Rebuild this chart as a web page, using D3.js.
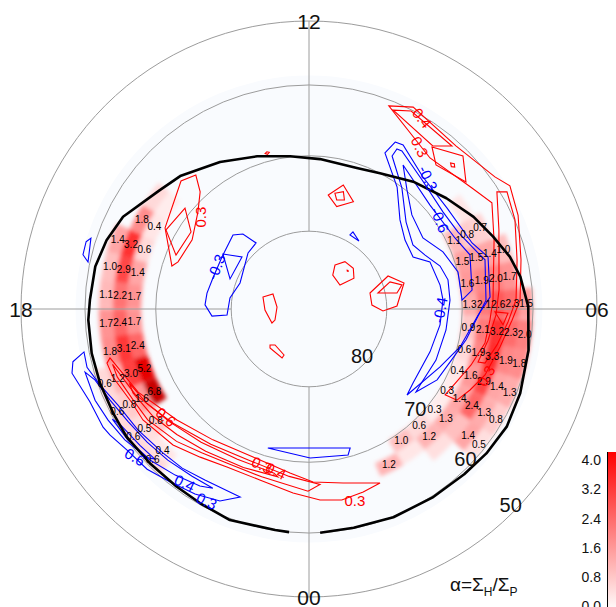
<!DOCTYPE html>
<html>
<head>
<meta charset="utf-8">
<script src="https://cdn.jsdelivr.net/npm/d3@7"></script>
<style>
  html, body { margin: 0; padding: 0; background: #ffffff; }
  svg { display: block; }
</style>
</head>
<body>
<svg id="chart" width="616" height="607"></svg>
<script>
// ---- dial furniture ----
const hourLabels = [[12, "12"], [18, "18"], [6, "06"], [0, "00"]];
const latCircles = [80, 70, 60, 50];
const spokeHours = [0, 6, 12, 18];
const colorTicks = [0, 0.8, 1.6, 2.4, 3.2, 4.0];

// ---- alpha = Sigma_H / Sigma_P bins: [MLT h, MLAT deg, alpha] ----
const cellsDusk = [
  [16.13, 65, 1.8], [16.13, 67, 0.4],
  [16.67, 63, 1.4], [16.67, 65, 3.2], [16.67, 67, 0.6],
  [17.20, 63, 1.0], [17.20, 65, 2.9], [17.20, 67, 1.4],
  [17.73, 63, 1.1], [17.73, 65, 2.2], [17.73, 67, 1.7],
  [18.27, 63, 1.7], [18.27, 65, 2.4], [18.27, 67, 1.7],
  [18.80, 63, 1.8], [18.80, 65, 3.1], [18.80, 67, 2.4],
  [19.33, 61, 0.6], [19.33, 63, 1.2], [19.33, 65, 3.0], [19.33, 67, 5.2],
  [19.87, 61, 0.6], [19.87, 63, 0.8], [19.87, 65, 1.6], [19.87, 67, 6.8],
  [20.40, 61, 0.6], [20.40, 63, 0.5], [20.40, 65, 0.8],
  [20.93, 61, 0.6], [20.93, 63, 0.4]
];
const cellsDawn = [
  [7.69, 65, 0.7], [7.69, 67, 0.8], [7.69, 69, 1.1],
  [7.14, 63, 1.0], [7.14, 65, 1.4], [7.14, 67, 1.5], [7.14, 69, 1.5],
  [6.62, 63, 1.7], [6.62, 65, 2.0], [6.62, 67, 1.9], [6.62, 69, 1.6],
  [6.10, 61, 1.5], [6.10, 63, 2.3], [6.10, 65, 2.6], [6.10, 67, 2.1], [6.10, 69, 1.3],
  [5.55, 61, 2.0], [5.55, 63, 2.3], [5.55, 65, 3.2], [5.55, 67, 2.1], [5.55, 69, 0.9],
  [5.03, 61, 1.8], [5.03, 63, 1.9], [5.03, 65, 3.3], [5.03, 67, 1.9], [5.03, 69, 0.6],
  [4.50, 61, 1.3], [4.50, 63, 1.4], [4.50, 65, 2.9], [4.50, 67, 1.6], [4.50, 69, 0.4],
  [3.96, 61, 0.8], [3.96, 63, 1.3], [3.96, 65, 2.4], [3.96, 67, 1.4], [3.96, 69, 0.3],
  [3.43, 61, 0.5], [3.43, 63, 1.4], [3.43, 67, 1.3], [3.43, 69, 0.3],
  [2.89, 67, 1.2], [2.89, 69, 0.6],
  [2.34, 69, 1.0],
  [1.81, 67, 1.2]
];
// bins shown in colour only (no printed value)
const cellsUnlabelled = [
  [15.60, 65, 0.6], [15.60, 67, 0.3], [3.43, 65, 1.0], [2.89, 65, 0.5],
  [2.34, 67, 0.4], [8.22, 66, 0.4]
];

// ---- auroral oval boundary [MLT, MLAT] ----
const ovalBoundary = [
  [0.19, 60.0], [0.77, 60.1], [1.47, 59.9], [2.21, 59.8], [2.88, 59.6], [3.39, 59.3],
  [3.95, 59.1], [4.55, 59.5], [5.29, 60.1], [6.04, 60.7], [6.58, 61.5], [6.97, 62.4],
  [7.43, 63.8], [7.95, 65.1], [8.59, 66.8], [9.38, 68.45], [10.16, 70.0], [10.75, 70.6],
  [11.72, 70.4], [12.47, 69.9], [13.25, 68.9], [14.08, 67.45], [14.94, 65.6], [15.43, 64.8],
  [16.24, 62.4], [16.75, 61.5], [17.25, 60.9], [17.84, 60.7], [18.19, 60.45], [18.77, 60.33],
  [19.31, 60.33], [19.87, 60.33], [20.33, 60.2], [20.94, 60.35], [21.55, 60.37], [22.05, 60.2],
  [22.63, 59.8], [23.42, 60.06], [23.66, 60.0]
];

// ---- positive contours of the difference field [MLT, MLAT] ----
const contoursPos = [
  [[10.57,60.85],[10.18,59.53],[9.20,60.66],[8.36,59.4],[8.1,58.27],[7.61,59.24],[6.87,60.94],[6.16,61.87],[5.79,63.01],[5.25,64.24],[4.63,65.19],[4.22,66.28],[3.89,67.18],[3.85,68.95],[4.30,68.38],[4.73,67.5],[5.27,66.42],[5.77,66.13],[6.19,65.72],[7.36,63.85],[8.01,61.83],[8.44,63.06],[9.42,64.41]],
  [[10.47,61.18],[10.18,60.19],[9.25,61.06],[9.52,62.8]],
  [[8.13,60.38],[8.04,59.11],[7.56,59.94],[6.88,61.51],[6.17,62.45],[5.75,63.57],[5.28,64.71],[4.86,65.73],[4.84,66.71],[5.34,66.07],[5.88,65.32],[6.38,64.77],[7.51,62.66]],
  [[9.52,63.0],[8.99,61.01],[8.6,63.21],[9.24,64.62]],
  [[9.0,63.3],[8.95,63.0],[9.0,62.7],[9.06,63.0]],
  [[5.94,65.47],[5.92,63.63],[5.69,64.25]],
  [[16.04,68.36],[15.0,66.17],[14.68,66.96],[14.86,69.09],[15.26,70.79],[15.96,72.36],[16.68,71.9],[16.84,71.3]],
  [[16.07,68.61],[15.39,69.09],[15.79,71.67],[16.53,71.32]],
  [[11.36,75.05],[10.97,73.31],[10.5,74.98],[10.99,76.31]],
  [[11.16,74.65],[10.91,74.17],[10.8,75.18],[11.05,75.46]],
  [[9.96,83.45],[9.52,82.38],[8.84,82.28],[8.29,83.02],[8.52,84.98],[9.67,84.69]],
  [[8.98,83.1],[8.93,83.03],[8.98,82.96],[9.03,83.03]],
  [[6.98,81.91],[7.51,78.98],[7.02,77.3],[6.13,78.67],[5.9,80.49],[6.24,81.91]],
  [[6.87,80.91],[7.23,79.01],[6.97,77.62],[6.69,78.49]],
  [[17.03,83.91],[16.49,85.0],[17.76,85.9],[19.2,85.42],[19.38,84.93],[18.09,84.36]],
  [[20.85,83.2],[21.11,83.66],[22.1,83.29],[22.08,82.83],[21.0,82.93]],
  [[13.0,69.05],[12.95,68.86],[13.0,68.7],[13.05,68.86]],
  [[18.92,62.78],[19.73,64.9],[20.67,67.35],[21.58,68.75],[22.62,69.32],[23.56,68.38],[0.09,67.28],[0.74,66.69],[1.48,65.2],[1.1,64.79],[0.65,64.37],[0.22,64.72],[23.67,65.65],[22.93,66.6],[22.17,66.59],[21.58,65.78],[21.0,64.58],[20.25,63.53],[19.86,63.43],[19.28,62.41],[19.0,62.18]],
  [[19.05,62.9],[19.75,64.4],[20.65,66.6],[21.6,68.1],[22.6,68.7],[23.55,67.9],[0.24,66.9],[23.98,66.0],[22.95,67.1],[22.2,67.1],[21.55,66.4],[21.0,65.3],[20.3,64.1],[19.85,63.8],[19.3,63.0]],
  [[19.5,64.3],[20.0,65.2],[20.6,66.4],[21.4,67.5],[22.3,68.2],[23.2,68.0],[23.3,67.6],[22.5,67.5],[21.6,66.9],[20.9,66.0],[20.3,65.0],[19.7,64.2]]
];

// ---- negative contours [MLT, MLAT] ----
const contoursNeg = [
  [[17.85,76.57],[17.41,76.68],[16.81,76.98],[15.94,76.92],[15.05,76.3],[14.76,77.11],[14.58,79.11],[15.16,79.35],[16.62,80.53],[17.47,79.74],[18.28,79.43],[18.28,77.46]],
  [[15.83,76.83],[15.48,79.09],[16.61,79.13]],
  [[10.07,79.11],[10.02,78.58],[9.58,79.14]],
  [[16.88,58.69],[16.8,59.22],[17.2,59.72],[17.1,58.75]],
  [[22.9,71.13],[1.1,71.13],[1.0,70.29],[0.03,70.57]],
  [[18.84,57.32],[18.72,59.25],[18.98,59.19],[19.33,60.24],[19.78,61.5],[20.35,62.12],[20.97,62.76],[21.43,62.99],[21.91,63.47],[22.66,63.45],[22.34,61.82],[21.89,60.99],[21.41,60.31],[20.98,59.45],[20.52,59.08],[20.16,58.28],[19.99,58.0],[19.53,57.92],[19.01,56.77]],
  [[19.05,58.71],[19.22,59.78],[19.64,60.77],[20.12,61.6],[20.63,62.1],[21.13,62.5],[21.67,62.9],[22.12,63.0],[21.89,62.35],[21.41,61.57],[20.9,60.69],[20.36,59.72],[19.93,59.17],[19.54,58.73]],
  [[19.95,59.8],[20.1,60.4],[20.6,61.0],[20.95,61.3],[20.85,60.7],[20.4,60.1]],
  [[10.18,65.21],[10.01,65.04],[9.28,67.09],[8.41,67.56],[7.47,66.88],[7.08,65.41],[6.25,66.11],[5.86,67.82],[5.06,69.66],[4.41,71.35],[3.25,73.08],[3.64,73.45],[4.7,73.35],[5.54,72.87],[6.26,72.56],[6.69,72.7],[7.42,73.16],[7.77,74.95],[8.38,74.7],[8.96,73.49],[9.61,70.38],[10.27,67.21]],
  [[10.08,65.95],[9.97,65.85],[9.25,67.49],[8.39,68.33],[7.82,68.02],[7.25,66.67],[7.04,65.93],[6.19,66.7],[5.75,68.06],[5.26,69.07],[4.75,70.15],[4.07,70.93],[3.48,72.41],[3.71,72.52],[4.54,72.21],[5.42,71.98],[6.24,71.62],[6.79,71.52],[7.21,72.07],[7.66,73.4],[8.11,74.19],[8.79,73.09],[9.5,70.09],[10.1,67.13]],
  [[9.79,67.42],[8.71,69.15],[7.73,68.76],[7.24,67.73],[6.44,68.51],[6.22,69.99],[6.93,69.96],[7.54,71.03],[8.13,72.56],[8.83,71.87],[9.37,69.87]]
];

// contour level labels: [text, MLT, MLAT, rotation]
const labelsPos = [
  ["0.4", 9.96, 60.32, 52], ["0.3", 9.71, 64.0, 63], ["0.3", 15.31, 71.54, -90],
  ["0.3", 4.62, 65.01, -60], ["0.6", 20.47, 66.42, 40], ["0.3", 22.88, 68.68, 25],
  ["0.4", 23.23, 68.35, 25], ["0.3", 0.9, 63.99, 0]
];
const labelsNeg = [
  ["-0.3", 16.38, 76.84, -68], ["-0.3", 9.18, 66.73, 65], ["-0.6", 8.28, 69.3, 68],
  ["-0.4", 5.97, 73.0, -80], ["0.6", 20.69, 59.35, 30], ["0.4", 21.63, 61.51, 25],
  ["0.3", 22.13, 60.97, 25]
];

// ---- geometry ----
const cx = 309, cy = 309;
const deg = Math.PI / 180;
const rScale = d3.scaleLinear().domain([0, Math.cos(50 * deg)]).range([0, 288]);
const aScale = d3.scaleLinear().domain([0, 24]).range([0, 2 * Math.PI]);
const rad = lat => rScale(Math.cos(lat * deg));
const proj = (mlt, lat) => {
  const r = rad(lat), a = aScale(mlt);
  return [cx + r * Math.sin(a), cy + r * Math.cos(a)];
};
const color = d3.scaleLinear().domain([0, 4, 7]).range(["#ffffff", "#ff0000", "#c40000"]).clamp(true);
const fmt = d3.format(".1f");
const font = "'Liberation Sans', Arial, Helvetica, sans-serif";

const svg = d3.select("#chart");
const defs = svg.append("defs");
defs.append("filter").attr("id", "soften")
  .attr("x", "-10%").attr("y", "-10%").attr("width", "120%").attr("height", "120%")
  .append("feGaussianBlur").attr("stdDeviation", 1.9);

// faint data-coverage backdrop
svg.append("circle").attr("cx", cx).attr("cy", cy).attr("r", rad(58.6)).attr("fill", "#f9fbfe");

// binned alpha cells
const halfMlt = 0.2667, halfLat = 1;
const arc = d3.arc();
const allCells = cellsUnlabelled.concat(cellsDusk, cellsDawn);
svg.append("g").attr("filter", "url(#soften)")
  .attr("transform", `translate(${cx},${cy})`)
  .selectAll("path").data(allCells).join("path")
  .attr("d", d => arc({
    innerRadius: rad(d[1] + halfLat), outerRadius: rad(d[1] - halfLat),
    startAngle: Math.PI - aScale(d[0] + halfMlt), endAngle: Math.PI - aScale(d[0] - halfMlt)
  }))
  .attr("fill", d => color(d[2]));

// latitude circles and hour spokes
const grid = svg.append("g").attr("stroke", "#9c9c9c").attr("stroke-width", 1).attr("fill", "none");
grid.selectAll("circle").data(latCircles).join("circle")
  .attr("cx", cx).attr("cy", cy).attr("r", d => rad(d));
grid.selectAll("line").data(spokeHours).join("line")
  .attr("x1", d => proj(d, 80)[0]).attr("y1", d => proj(d, 80)[1])
  .attr("x2", d => proj(d, 50)[0]).attr("y2", d => proj(d, 50)[1]);

// contours
const closedLine = d3.line().x(p => proj(p[0], p[1])[0]).y(p => proj(p[0], p[1])[1]).curve(d3.curveLinearClosed);
svg.append("g").selectAll("path").data(contoursPos).join("path")
  .attr("d", closedLine).attr("fill", "none").attr("stroke", "#ff0000").attr("stroke-width", 1.1);
svg.append("g").selectAll("path").data(contoursNeg).join("path")
  .attr("d", closedLine).attr("fill", "none").attr("stroke", "#0000ff").attr("stroke-width", 1.1);

// oval boundary
const openLine = d3.line().x(p => proj(p[0], p[1])[0]).y(p => proj(p[0], p[1])[1]);
svg.append("path").datum(ovalBoundary).attr("d", openLine)
  .attr("fill", "none").attr("stroke", "#000").attr("stroke-width", 2.6).attr("stroke-linejoin", "round");

// printed bin values
svg.append("g").selectAll("text").data(cellsDusk.concat(cellsDawn)).join("text")
  .attr("x", d => proj(d[0], d[1])[0]).attr("y", d => proj(d[0], d[1])[1])
  .attr("text-anchor", "middle").attr("dominant-baseline", "central")
  .attr("font-family", font).attr("font-size", 10).attr("fill", "#000")
  .text(d => fmt(d[2]));

// contour level labels
function levelLabels(data, fill) {
  svg.append("g").selectAll("text").data(data).join("text")
    .attr("transform", d => { const p = proj(d[1], d[2]); return `translate(${p[0]},${p[1]}) rotate(${d[3]})`; })
    .attr("text-anchor", "middle").attr("dominant-baseline", "central")
    .attr("font-family", font).attr("font-size", 15).attr("fill", fill)
    .text(d => d[0]);
}
levelLabels(labelsPos, "#ff0000");
levelLabels(labelsNeg, "#0000ff");

// hour and latitude labels
svg.append("g").selectAll("text").data(hourLabels).join("text")
  .attr("x", d => proj(d[0], 50)[0]).attr("y", d => proj(d[0], 50)[1])
  .attr("text-anchor", "middle").attr("dominant-baseline", "central")
  .attr("font-family", font).attr("font-size", 21).attr("fill", "#111")
  .text(d => d[1]);
svg.append("g").selectAll("text").data(latCircles).join("text")
  .attr("x", d => proj(3, d)[0] - 2).attr("y", d => proj(3, d)[1] - 8)
  .attr("text-anchor", "middle").attr("dominant-baseline", "central")
  .attr("font-family", font).attr("font-size", 20).attr("fill", "#111")
  .text(d => d);

// colour bar
const cbScale = d3.scaleLinear().domain([0, 4]).range([606.5, 460]);
const grad = defs.append("linearGradient").attr("id", "cbGrad")
  .attr("x1", 0).attr("y1", 1).attr("x2", 0).attr("y2", 0);
grad.selectAll("stop").data(colorTicks).join("stop")
  .attr("offset", d => d / 4).attr("stop-color", d => color(d));
svg.append("rect").attr("x", 607).attr("y", 452).attr("width", 10).attr("height", 160)
  .attr("fill", "url(#cbGrad)");
svg.append("line").attr("x1", 607.5).attr("x2", 607.5).attr("y1", 452).attr("y2", 607)
  .attr("stroke", "#000").attr("stroke-width", 1);
const cbAxis = svg.append("g").attr("transform", "translate(607,0)")
  .call(d3.axisLeft(cbScale).tickValues(colorTicks).tickFormat(fmt).tickSize(0).tickPadding(6));
cbAxis.select(".domain").remove();
cbAxis.selectAll("text").attr("font-family", font).attr("font-size", 14).attr("fill", "#111");

// formula
const formula = svg.append("text").attr("x", 450).attr("y", 591)
  .attr("font-family", font).attr("font-size", 19).attr("fill", "#111");
formula.append("tspan").text("α=Σ");
formula.append("tspan").attr("font-size", 12).attr("dy", 5).text("H");
formula.append("tspan").attr("dy", -5).text("/Σ");
formula.append("tspan").attr("font-size", 12).attr("dy", 5).text("P");
</script>
</body>
</html>
